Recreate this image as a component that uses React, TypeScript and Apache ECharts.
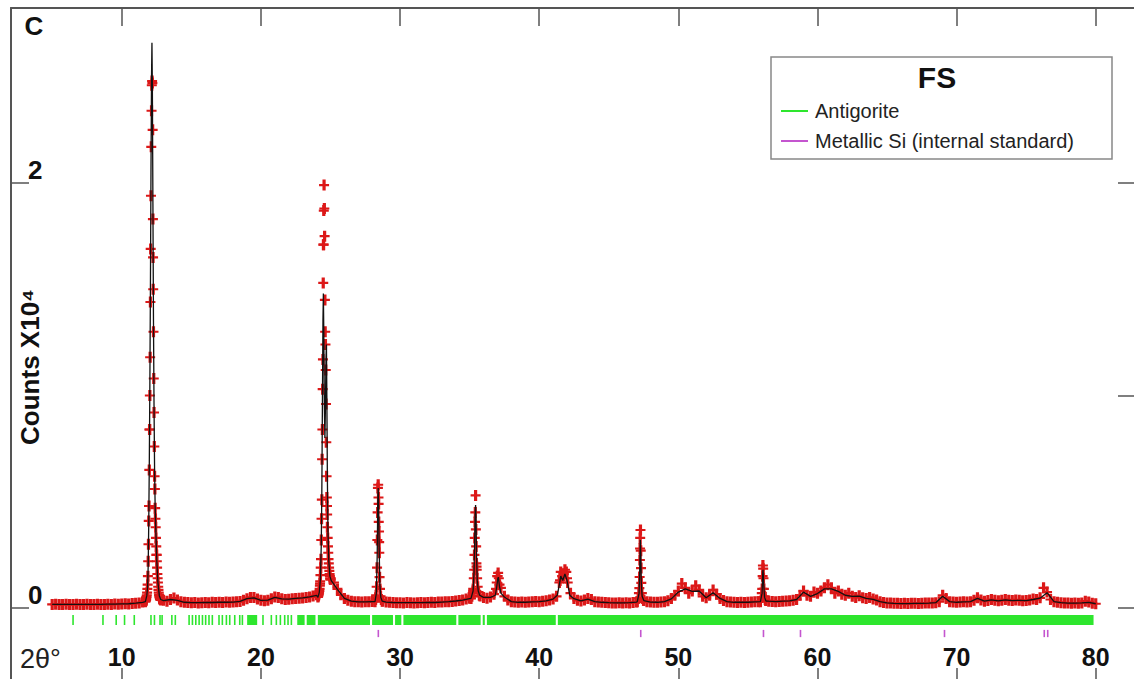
import React, { useEffect, useRef } from "react";
import * as echarts from "echarts";

// ---- Observed pattern (counts x 10^4), regular scan 5..80 deg, step 0.25 ----
const scanStart = 5;
const scanStep = 0.25;
const observedCounts = [
  0.017, 0.018, 0.016, 0.017, // 5
  0.018, 0.016, 0.017, 0.018, // 6
  0.016, 0.017, 0.018, 0.016, // 7
  0.017, 0.018, 0.017, 0.016, // 8
  0.018, 0.017, 0.019, 0.018, // 9
  0.019, 0.020, 0.019, 0.021, // 10
  0.022, 0.024, 0.028, 0.038, // 11
  0.840, 1.650, 0.250, 0.043, // 12
  0.036, 0.032, 0.040, 0.047, // 13
  0.038, 0.030, 0.027, 0.026, // 14
  0.025, 0.026, 0.024, 0.025, // 15
  0.026, 0.025, 0.027, 0.026, // 16
  0.027, 0.026, 0.028, 0.027, // 17
  0.028, 0.029, 0.031, 0.036, // 18
  0.044, 0.050, 0.049, 0.042, // 19
  0.036, 0.034, 0.037, 0.044, // 20
  0.052, 0.050, 0.043, 0.040, // 21
  0.041, 0.043, 0.045, 0.046, // 22
  0.047, 0.049, 0.052, 0.056, // 23
  0.062, 0.115, 1.710, 0.480, // 24
  0.135, 0.120, 0.090, 0.062, // 25
  0.045, 0.036, 0.032, 0.030, // 26
  0.029, 0.028, 0.029, 0.030, // 27
  0.031, 0.048, 0.310, 0.033, // 28
  0.028, 0.027, 0.026, 0.025, // 29
  0.025, 0.024, 0.026, 0.025, // 30
  0.024, 0.025, 0.026, 0.025, // 31
  0.026, 0.027, 0.026, 0.028, // 32
  0.028, 0.029, 0.030, 0.031, // 33
  0.033, 0.035, 0.038, 0.042, // 34
  0.046, 0.080, 0.195, 0.056, // 35
  0.050, 0.046, 0.052, 0.065, // 36
  0.150, 0.095, 0.055, 0.038, // 37
  0.030, 0.028, 0.027, 0.028, // 38
  0.027, 0.028, 0.029, 0.031, // 39
  0.030, 0.032, 0.034, 0.038, // 40
  0.042, 0.055, 0.130, 0.160, // 41
  0.140, 0.070, 0.045, 0.036, // 42
  0.033, 0.038, 0.045, 0.040, // 43
  0.030, 0.028, 0.027, 0.026, // 44
  0.025, 0.024, 0.024, 0.025, // 45
  0.024, 0.025, 0.024, 0.026, // 46
  0.028, 0.280, 0.036, 0.030, // 47
  0.028, 0.027, 0.027, 0.028, // 48
  0.030, 0.034, 0.045, 0.060, // 49
  0.080, 0.115, 0.095, 0.070, // 50
  0.080, 0.105, 0.085, 0.055, // 51
  0.048, 0.060, 0.085, 0.065, // 52
  0.045, 0.035, 0.030, 0.028, // 53
  0.027, 0.026, 0.027, 0.026, // 54
  0.027, 0.028, 0.029, 0.030, // 55
  0.070, 0.040, 0.032, 0.031, // 56
  0.030, 0.031, 0.032, 0.033, // 57
  0.034, 0.036, 0.040, 0.060, // 58
  0.080, 0.060, 0.055, 0.075, // 59
  0.070, 0.080, 0.095, 0.110, // 60
  0.095, 0.070, 0.080, 0.065, // 61
  0.060, 0.070, 0.055, 0.050, // 62
  0.058, 0.048, 0.045, 0.050, // 63
  0.042, 0.038, 0.030, 0.026, // 64
  0.024, 0.023, 0.022, 0.022, // 65
  0.021, 0.022, 0.021, 0.022, // 66
  0.022, 0.021, 0.022, 0.023, // 67
  0.023, 0.024, 0.025, 0.030, // 68
  0.060, 0.045, 0.030, 0.028, // 69
  0.027, 0.028, 0.029, 0.028, // 70
  0.030, 0.036, 0.048, 0.038, // 71
  0.032, 0.035, 0.040, 0.036, // 72
  0.034, 0.036, 0.040, 0.037, // 73
  0.035, 0.038, 0.036, 0.034, // 74
  0.035, 0.038, 0.042, 0.040, // 75
  0.048, 0.095, 0.075, 0.040, // 76
  0.030, 0.027, 0.025, 0.024, // 77
  0.023, 0.022, 0.023, 0.022, // 78
  0.024, 0.032, 0.028, 0.022, // 79
  0.020, // 80
];

// Fine-step observed points across the sharp reflections
const obsPeakTheta = [
  11.70, 11.72, 11.74, 11.76, 11.78, 11.80, 11.82, 11.84, 11.86, 11.88, 11.90, 11.92, 11.94, 11.96, 11.98,
  12.00, 12.02, 12.04, 12.06, 12.08, 12.10, 12.12, 12.14, 12.16, 12.18, 12.20, 12.22, 12.24, 12.26, 12.28,
  12.30, 12.32, 12.34, 12.36, 12.38, 12.40, 12.42, 12.44, 12.46, 12.48, 12.50, 12.52, 12.54, 12.56, 12.58,
  12.60, 12.62, 12.64, 12.66, 12.68, 12.70, 12.72, 12.74, 12.76, 12.78, 12.80,
  24.10, 24.12, 24.14, 24.16, 24.18, 24.20, 24.22, 24.24, 24.26, 24.28, 24.30, 24.32, 24.34, 24.36, 24.38,
  24.40, 24.42, 24.44, 24.46, 24.48, 24.50, 24.52, 24.54, 24.56, 24.58, 24.60, 24.62, 24.64, 24.66, 24.68,
  24.70, 24.72, 24.74, 24.76, 24.78, 24.80, 24.82, 24.84, 24.86, 24.88, 24.90, 24.92, 24.94, 24.96, 24.98, 25.00,
  28.20, 28.24, 28.28, 28.32, 28.35, 28.37, 28.39, 28.41, 28.43, 28.45, 28.46, 28.47, 28.49, 28.51, 28.53, 28.56, 28.60, 28.66, 28.72,
  35.10, 35.16, 35.22, 35.26, 35.30, 35.33, 35.35, 35.37, 35.39, 35.41, 35.43, 35.45, 35.47, 35.49, 35.51, 35.54, 35.58, 35.64, 35.70,
  36.90, 36.95, 37.00, 37.05, 37.10, 37.15,
  41.45, 41.55, 41.65, 41.75, 41.85, 41.95, 42.05,
  47.05, 47.12, 47.17, 47.20, 47.22, 47.24, 47.26, 47.28, 47.30, 47.32, 47.34, 47.38, 47.44, 47.52,
  55.90, 55.98, 56.03, 56.06, 56.08, 56.10, 56.12, 56.15, 56.20, 56.28,
];
const obsPeakCounts = [
  0.030, 0.034, 0.038, 0.045, 0.052, 0.060, 0.072, 0.090, 0.110, 0.150, 0.220, 0.300, 0.410, 0.480, 0.650,
  0.840, 1.000, 1.180, 1.440, 1.690, 1.940, 2.170, 2.340, 2.460, 2.480, 2.470, 2.250, 1.830, 1.500, 1.300,
  1.080, 0.920, 0.760, 0.620, 0.560, 0.470, 0.420, 0.380, 0.330, 0.290, 0.250, 0.220, 0.190, 0.160, 0.140,
  0.120, 0.100, 0.085, 0.072, 0.062, 0.055, 0.050, 0.045, 0.042, 0.040, 0.038,
  0.052, 0.056, 0.060, 0.066, 0.072, 0.080, 0.090, 0.105, 0.125, 0.155, 0.190, 0.230, 0.320, 0.420, 0.510,
  0.700, 0.840, 1.030, 1.170, 1.530, 1.710, 1.870, 1.990, 1.880, 1.750, 1.450, 1.300, 1.240, 1.120, 0.960,
  0.780, 0.620, 0.520, 0.440, 0.380, 0.330, 0.290, 0.260, 0.230, 0.210, 0.190, 0.175, 0.160, 0.150, 0.140, 0.135,
  0.030, 0.040, 0.060, 0.100, 0.190, 0.320, 0.450, 0.565, 0.580, 0.520, 0.490, 0.405, 0.360, 0.260, 0.145, 0.090, 0.055, 0.040, 0.032,
  0.045, 0.055, 0.070, 0.090, 0.140, 0.180, 0.250, 0.330, 0.405, 0.450, 0.530, 0.370, 0.290, 0.210, 0.180, 0.140, 0.100, 0.075, 0.060,
  0.090, 0.120, 0.150, 0.165, 0.140, 0.110,
  0.120, 0.170, 0.150, 0.160, 0.180, 0.170, 0.120,
  0.030, 0.045, 0.070, 0.094, 0.146, 0.226, 0.330, 0.367, 0.270, 0.188, 0.118, 0.070, 0.045, 0.035,
  0.030, 0.050, 0.090, 0.150, 0.200, 0.185, 0.140, 0.090, 0.055, 0.035,
];

// ---- Calculated profile, step 0.5 (null where the fine peak profile takes over) ----
const calcStart = 5;
const calcStep = 0.5;
const calculatedCounts = [
  0.017, 0.017, 0.017, 0.017, 0.017, 0.017, 0.017, 0.017, 0.018, 0.018, // 5-9.5
  0.019, 0.020, 0.023, 0.027, null, null, 0.035, 0.040, 0.036, 0.027, // 10-14.5
  0.025, 0.025, 0.026, 0.026, 0.027, 0.027, 0.028, 0.031, 0.044, 0.048, // 15-19.5
  0.036, 0.037, 0.050, 0.043, 0.042, 0.045, 0.048, 0.052, 0.060, null, // 20-24.5
  null, 0.088, 0.045, 0.032, 0.029, 0.029, 0.030, null, 0.028, 0.026, // 25-29.5
  0.025, 0.025, 0.025, 0.025, 0.026, 0.026, 0.028, 0.030, 0.033, 0.037, // 30-34.5
  0.044, null, 0.050, 0.050, null, 0.052, 0.030, 0.027, 0.027, 0.029, // 35-39.5
  0.030, 0.034, 0.042, null, null, 0.044, 0.034, 0.042, 0.030, 0.027, // 40-44.5
  0.025, 0.024, 0.024, 0.025, 0.028, null, 0.028, 0.027, 0.030, 0.043, // 45-49.5
  0.075, 0.090, 0.078, 0.080, 0.048, 0.072, 0.045, 0.030, 0.027, 0.027, // 50-54.5
  0.027, 0.029, null, 0.032, 0.030, 0.032, 0.034, 0.040, 0.075, 0.055, // 55-59.5
  0.068, 0.090, 0.090, 0.078, 0.060, 0.055, 0.056, 0.045, 0.041, 0.030, // 60-64.5
  0.024, 0.022, 0.021, 0.021, 0.022, 0.022, 0.023, 0.025, 0.055, 0.030, // 65-69.5
  0.027, 0.029, 0.030, 0.045, 0.032, 0.038, 0.034, 0.038, 0.035, 0.036, // 70-74.5
  0.035, 0.040, 0.046, 0.072, 0.030, 0.025, 0.023, 0.023, 0.024, 0.027, // 75-79.5
  0.020, // 80
];
const calcPeakTheta = [
  11.70, 11.80, 11.86, 11.90, 11.94, 11.98, 12.02, 12.06, 12.10, 12.14, 12.17, 12.20, 12.24, 12.28, 12.32, 12.36, 12.40, 12.46, 12.52, 12.60, 12.70, 12.80,
  24.10, 24.20, 24.28, 24.34, 24.38, 24.42, 24.46, 24.49, 24.52, 24.56, 24.60, 24.64, 24.68, 24.71, 24.74, 24.78, 24.82, 24.88, 24.96, 25.05,
  28.20, 28.30, 28.36, 28.40, 28.43, 28.46, 28.50, 28.55, 28.62, 28.72,
  35.10, 35.25, 35.32, 35.37, 35.41, 35.43, 35.46, 35.50, 35.55, 35.62, 35.72,
  36.85, 36.95, 37.03, 37.07, 37.15, 37.25,
  41.30, 41.45, 41.55, 41.70, 41.85, 42.00, 42.20,
  47.05, 47.18, 47.23, 47.27, 47.30, 47.34, 47.40, 47.52,
  55.90, 56.02, 56.07, 56.09, 56.13, 56.20, 56.30,
];
const calcPeakCounts = [
  0.030, 0.058, 0.100, 0.200, 0.400, 0.680, 1.050, 1.500, 2.050, 2.500, 2.660, 2.450, 1.900, 1.350, 0.950, 0.650, 0.480, 0.340, 0.220, 0.120, 0.058, 0.040,
  0.050, 0.075, 0.140, 0.300, 0.550, 0.950, 1.350, 1.480, 1.300, 0.950, 0.800, 0.950, 1.180, 1.240, 1.000, 0.600, 0.360, 0.220, 0.150, 0.130,
  0.030, 0.070, 0.250, 0.500, 0.565, 0.480, 0.280, 0.110, 0.050, 0.032,
  0.045, 0.080, 0.170, 0.340, 0.460, 0.485, 0.420, 0.240, 0.130, 0.080, 0.060,
  0.060, 0.100, 0.140, 0.145, 0.100, 0.070,
  0.060, 0.110, 0.150, 0.130, 0.160, 0.130, 0.060,
  0.030, 0.070, 0.180, 0.320, 0.260, 0.120, 0.055, 0.035,
  0.030, 0.070, 0.170, 0.180, 0.120, 0.050, 0.033,
];

// ---- Bragg reflection markers (2θ); [start, end] – dense groups drawn as bands ----
const antigoriteReflections = [
  [6.5, 6.5], [8.65, 8.65], [9.6, 9.6], [10.2, 10.2], [10.9, 10.9],
  [12.1, 12.1], [12.35, 12.35], [12.75, 12.75], [12.9, 12.9], [13.6, 13.6], [13.85, 13.85],
  [14.84, 14.84], [15.08, 15.08], [15.32, 15.32], [15.56, 15.56], [15.8, 15.8], [16.03, 16.03],
  [16.27, 16.27], [16.51, 16.51], [16.99, 16.99], [17.23, 17.23], [17.52, 17.52], [17.76, 17.76],
  [18.12, 18.12], [18.48, 18.48], [18.67, 18.67], [19.07, 19.79], [20.15, 20.15], [20.75, 20.75],
  [21.11, 21.11], [21.4, 21.4], [21.71, 21.71], [21.95, 21.95], [22.19, 22.19],
  [22.67, 23.2], [23.35, 23.98], [24.15, 27.9], [28.05, 29.55], [29.7, 30.15], [30.3, 34.1],
  [34.25, 35.85], [36.0, 36.15], [36.3, 41.25], [41.4, 79.9],
];
const siliconReflections = [28.44, 47.3, 56.12, 58.78, 69.13, 76.3, 76.55];

const xTickValues = [10, 20, 30, 40, 50, 60, 70, 80];
const yTickValues = [0, 1, 2];
const yLabelValues = [0, 2];

const FONT = "'Liberation Sans', Arial, Helvetica, sans-serif";
const X_MIN = 2.04;
const X_MAX = 82.75;
const Y_MIN = -0.367;
const Y_MAX = 2.8235;

export default function App() {
  const ref = useRef<HTMLDivElement>(null);

  useEffect(() => {
    if (!ref.current) return;
    const chart = echarts.init(ref.current, undefined, { renderer: "svg" });

    const obsData: number[][] = observedCounts.map((c, i) => [scanStart + i * scanStep, c]);
    obsPeakTheta.forEach((t, i) => obsData.push([t, obsPeakCounts[i]]));

    const calcData: number[][] = [];
    calculatedCounts.forEach((c, i) => {
      if (c !== null) calcData.push([calcStart + i * calcStep, c as number]);
    });
    calcPeakTheta.forEach((t, i) => calcData.push([t, calcPeakCounts[i]]));
    calcData.sort((a, b) => a[0] - b[0]);

    const tickRenderer = (top: number, bottom: number, color: string) =>
      (params: any, api: any) => {
        const p0 = api.coord([api.value(0), top]);
        const p1 = api.coord([api.value(1), bottom]);
        const w = Math.max(p1[0] - p0[0], 1.6);
        return {
          type: "rect",
          shape: { x: p0[0] - 0.8, y: p0[1], width: w, height: p1[1] - p0[1] },
          style: { fill: color },
        };
      };

    const GREEN = "#2ee62e";
    const MAGENTA = "#c455cf";

    const tickLine = { color: "#555", width: 1.5 };

    chart.setOption({
      animation: false,
      backgroundColor: "#ffffff",
      grid: { left: 11, top: 8, right: 0, height: 678, containLabel: false, outerBoundsMode: "none" },
      xAxis: [
        {
          type: "value",
          min: X_MIN,
          max: X_MAX,
          position: "bottom",
          axisLine: { show: false, onZero: false },
          splitLine: { show: false },
          axisTick: { show: true, inside: true, length: 18, customValues: xTickValues, lineStyle: tickLine },
          axisLabel: {
            show: true,
            inside: true,
            margin: 17,
            customValues: xTickValues,
            fontSize: 25,
            fontWeight: "bold",
            color: "#111",
            fontFamily: FONT,
          },
        },
        {
          type: "value",
          min: X_MIN,
          max: X_MAX,
          position: "top",
          axisLine: { show: true, onZero: false, lineStyle: { color: "#555", width: 2 } },
          splitLine: { show: false },
          axisTick: { show: true, inside: true, length: 18, customValues: xTickValues, lineStyle: tickLine },
          axisLabel: { show: false },
        },
      ],
      yAxis: [
        {
          type: "value",
          min: Y_MIN,
          max: Y_MAX,
          position: "left",
          axisLine: { show: true, onZero: false, lineStyle: { color: "#555", width: 2 } },
          splitLine: { show: false },
          axisTick: { show: true, inside: true, length: 18, customValues: yLabelValues, lineStyle: tickLine },
          axisLabel: {
            show: true,
            inside: true,
            margin: 17,
            customValues: yLabelValues,
            verticalAlign: "bottom",
            fontSize: 26,
            fontWeight: "bold",
            color: "#111",
            fontFamily: FONT,
          },
        },
        {
          type: "value",
          min: Y_MIN,
          max: Y_MAX,
          position: "right",
          axisLine: { show: false, onZero: false },
          splitLine: { show: false },
          axisTick: { show: true, inside: true, length: 16, customValues: yTickValues, lineStyle: tickLine },
          axisLabel: { show: false },
        },
      ],
      legend: {
        left: 776,
        top: 96,
        orient: "vertical",
        itemGap: 10,
        itemWidth: 27,
        itemHeight: 2,
        icon: "rect",
        selectedMode: false,
        data: ["Antigorite", "Metallic Si (internal standard)"],
        textStyle: { fontSize: 20, color: "#222", fontFamily: FONT, padding: [0, 0, 0, 2] },
      },
      graphic: [
        {
          type: "rect",
          shape: { x: 771, y: 57, width: 341, height: 102 },
          style: { fill: "#fff", stroke: "#888", lineWidth: 1.5 },
          z: 0,
        },
        {
          type: "text",
          x: 937,
          y: 77,
          style: {
            text: "FS",
            font: `bold 30px ${FONT}`,
            fill: "#111",
            textAlign: "center",
            textVerticalAlign: "middle",
          },
          z: 5,
        },
        {
          type: "text",
          x: 34,
          y: 26,
          style: {
            text: "C",
            font: `bold 26px ${FONT}`,
            fill: "#111",
            textAlign: "center",
            textVerticalAlign: "middle",
          },
          z: 5,
        },
        {
          type: "text",
          x: 30,
          y: 367,
          rotation: Math.PI / 2,
          style: {
            text: "Counts X10⁴",
            font: `bold 26px ${FONT}`,
            fill: "#111",
            textAlign: "center",
            textVerticalAlign: "middle",
          },
          z: 5,
        },
        {
          type: "text",
          x: 20,
          y: 659,
          style: {
            text: "2θ°",
            font: `27px ${FONT}`,
            fill: "#222",
            textAlign: "left",
            textVerticalAlign: "middle",
          },
          z: 5,
        },
      ],
      series: [
        {
          name: "Observed",
          type: "scatter",
          data: obsData,
          symbol: "path://M0,4H10V6H0Z M3.4,0H6.6V10H3.4Z",
          symbolSize: [10, 11],
          itemStyle: { color: "#dc1818", opacity: 1 },
          silent: true,
          z: 2,
        },
        {
          name: "Calculated",
          type: "line",
          data: calcData,
          showSymbol: false,
          symbol: "none",
          lineStyle: { color: "#111", width: 1.3 },
          silent: true,
          z: 3,
        },
        {
          name: "Antigorite",
          type: "custom",
          data: antigoriteReflections,
          encode: { x: [0, 1] },
          itemStyle: { color: GREEN },
          renderItem: tickRenderer(-0.033, -0.08, GREEN),
          silent: true,
          z: 2,
        },
        {
          name: "Metallic Si (internal standard)",
          type: "custom",
          data: siliconReflections.map((v) => [v, v]),
          encode: { x: [0, 1] },
          itemStyle: { color: MAGENTA },
          renderItem: tickRenderer(-0.103, -0.137, MAGENTA),
          silent: true,
          z: 2,
        },
      ],
    });

    return () => chart.dispose();
  }, []);

  return (
    <div
      ref={ref}
      style={{ position: "fixed", left: 0, top: 0, width: 1134, height: 679, background: "#fff" }}
    />
  );
}
